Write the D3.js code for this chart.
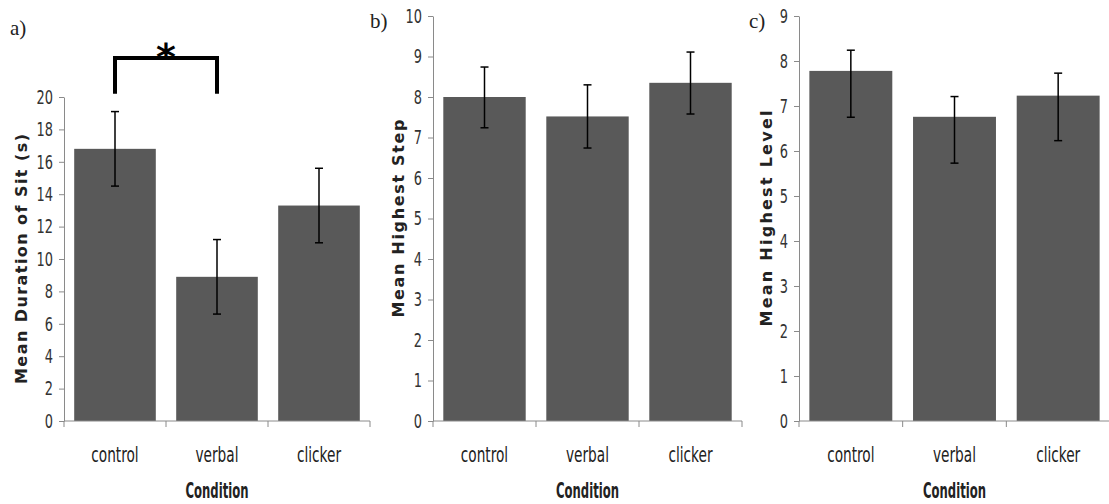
<!DOCTYPE html>
<html>
<head>
<meta charset="utf-8">
<script src="https://cdn.jsdelivr.net/npm/d3@7"></script>
<style>
  body { margin: 0; background: #fff; }
  svg { display: block; }
  .tick-num { font-family: "DejaVu Sans", sans-serif; font-stretch: condensed; font-size: 18px; fill: #333; }
  .cat { font-family: "DejaVu Sans", sans-serif; font-stretch: condensed; font-size: 19px; fill: #222; }
  .xtitle { font-family: "DejaVu Sans", sans-serif; font-stretch: condensed; font-size: 18px; font-weight: bold; fill: #222; }
  .ytitle { font-family: "DejaVu Sans", sans-serif; font-size: 16px; font-weight: bold; fill: #222; }
  .plabel { font-family: "Liberation Serif", serif; font-size: 21px; fill: #222; }
</style>
</head>
<body>
<svg id="chart" width="1109" height="504"></svg>
<script>
const conditions = ['control', 'verbal', 'clicker'];

// a) mean duration of sit
const sitMeans = [16.8, 8.9, 13.3];
const sitErrUp = [2.3, 2.3, 2.3];
const sitErrDown = [2.3, 2.3, 2.3];
const sitTicks = [0, 2, 4, 6, 8, 10, 12, 14, 16, 18, 20];

// b) mean highest step
const stepMeans = [8.0, 7.52, 8.35];
const stepErrUp = [0.74, 0.78, 0.76];
const stepErrDown = [0.76, 0.78, 0.77];
const stepTicks = [0, 1, 2, 3, 4, 5, 6, 7, 8, 9, 10];

// c) mean highest level
const levelMeans = [7.78, 6.76, 7.23];
const levelErrUp = [0.46, 0.45, 0.5];
const levelErrDown = [1.03, 1.03, 1.0];
const levelTicks = [0, 1, 2, 3, 4, 5, 6, 7, 8, 9];

const panels = [
  {label: 'a)', title: 'Mean Duration of Sit (s)', means: sitMeans, up: sitErrUp, down: sitErrDown,
   ticks: sitTicks, max: 20, left: 64, right: 370, top: 97, titleX: 21, titleLen: 250, labelX: 10, labelY: 35},
  {label: 'b)', title: 'Mean Highest Step', means: stepMeans, up: stepErrUp, down: stepErrDown,
   ticks: stepTicks, max: 10, left: 433, right: 742, top: 16, titleX: 398, titleLen: 198, labelX: 370, labelY: 28},
  {label: 'c)', title: 'Mean Highest Level', means: levelMeans, up: levelErrUp, down: levelErrDown,
   ticks: levelTicks, max: 9, left: 799, right: 1110, top: 16, titleX: 766, titleLen: 216, labelX: 749, labelY: 28}
];

const bottom = 421;
// the labels use a tall, narrow face: squeeze across, stretch down
const narrow = 0.8;
const tall = 1.15;
const svg = d3.select('#chart');

panels.forEach(p => {
  const x = d3.scaleBand()
    .domain(conditions)
    .range([p.left, p.right])
    .paddingInner(0.2)
    .paddingOuter(0.1);
  const y = d3.scaleLinear()
    .domain([0, p.max])
    .range([bottom, p.top]);

  const g = svg.append('g');

  // bars
  g.selectAll('.bar')
    .data(p.means)
    .join('rect')
    .attr('x', (d, i) => x(conditions[i]))
    .attr('y', d => y(d))
    .attr('width', x.bandwidth())
    .attr('height', d => bottom - y(d))
    .attr('fill', '#595959');

  // y axis
  const yAxis = d3.axisLeft(y)
    .tickValues(p.ticks)
    .tickSize(5)
    .tickPadding(6)
    .tickSizeOuter(0);
  const yg = g.append('g')
    .attr('transform', `translate(${p.left},0)`)
    .call(yAxis);
  yg.select('.domain').attr('stroke', '#8a8a8a');
  yg.selectAll('.tick line').attr('stroke', '#8a8a8a');
  yg.selectAll('.tick text')
    .attr('class', 'tick-num')
    .attr('font-family', null).attr('font-size', null)
    .attr('x', -11 / narrow)
    .attr('transform', `scale(${narrow},1.1)`);

  // x axis line and boundary ticks
  g.append('line')
    .attr('x1', p.left).attr('x2', p.right)
    .attr('y1', bottom).attr('y2', bottom)
    .attr('stroke', '#8a8a8a');
  g.selectAll('.xtick')
    .data(d3.range(conditions.length + 1))
    .join('line')
    .attr('x1', i => p.left + i * x.step())
    .attr('x2', i => p.left + i * x.step())
    .attr('y1', bottom).attr('y2', bottom + 6)
    .attr('stroke', '#8a8a8a');

  g.selectAll('.cat')
    .data(conditions)
    .join('text')
    .attr('class', 'cat')
    .attr('transform', d => `translate(${x(d) + x.bandwidth() / 2},462) scale(${narrow},${tall})`)
    .attr('text-anchor', 'middle')
    .text(d => d);

  g.append('text')
    .attr('class', 'xtitle')
    .attr('transform', `translate(${(p.left + p.right) / 2},498) scale(0.72,${tall})`)
    .attr('text-anchor', 'middle')
    .text('Condition');

  // error bars
  const eb = g.selectAll('.err')
    .data(p.means)
    .join('g')
    .attr('stroke', '#000')
    .attr('stroke-width', 1.5);
  eb.append('line')
    .attr('x1', (d, i) => x(conditions[i]) + x.bandwidth() / 2)
    .attr('x2', (d, i) => x(conditions[i]) + x.bandwidth() / 2)
    .attr('y1', (d, i) => y(d + p.up[i]))
    .attr('y2', (d, i) => y(d - p.down[i]));
  eb.append('line')
    .attr('x1', (d, i) => x(conditions[i]) + x.bandwidth() / 2 - 4)
    .attr('x2', (d, i) => x(conditions[i]) + x.bandwidth() / 2 + 4)
    .attr('y1', (d, i) => y(d + p.up[i]))
    .attr('y2', (d, i) => y(d + p.up[i]));
  eb.append('line')
    .attr('x1', (d, i) => x(conditions[i]) + x.bandwidth() / 2 - 4)
    .attr('x2', (d, i) => x(conditions[i]) + x.bandwidth() / 2 + 4)
    .attr('y1', (d, i) => y(d - p.down[i]))
    .attr('y2', (d, i) => y(d - p.down[i]));

  // y title
  const midY = (p.top + bottom) / 2;
  g.append('text')
    .attr('class', 'ytitle')
    .attr('transform', `translate(${p.titleX},${midY}) rotate(-90)`)
    .attr('text-anchor', 'middle')
    .attr('dy', '0.35em')
    .attr('textLength', p.titleLen)
    .attr('lengthAdjust', 'spacing')
    .text(p.title);

  // panel label
  g.append('text')
    .attr('class', 'plabel')
    .attr('x', p.labelX)
    .attr('y', p.labelY)
    .text(p.label);

  // significance bracket between control and verbal in panel a
  if (p.label === 'a)') {
    const x0 = x('control') + x.bandwidth() / 2;
    const x1 = x('verbal') + x.bandwidth() / 2;
    const yTop = 58;
    const yEnd = y(20.2);
    g.append('path')
      .attr('d', `M${x0},${yEnd}V${yTop}H${x1}V${yEnd}`)
      .attr('fill', 'none')
      .attr('stroke', '#000')
      .attr('stroke-width', 4);
    g.append('text')
      .attr('x', (x0 + x1) / 2)
      .attr('y', 70)
      .attr('text-anchor', 'middle')
      .style('font-family', 'DejaVu Sans, sans-serif')
      .style('font-size', '38px')
      .style('font-weight', 'bold')
      .text('*');
  }
});
</script>
</body>
</html>
